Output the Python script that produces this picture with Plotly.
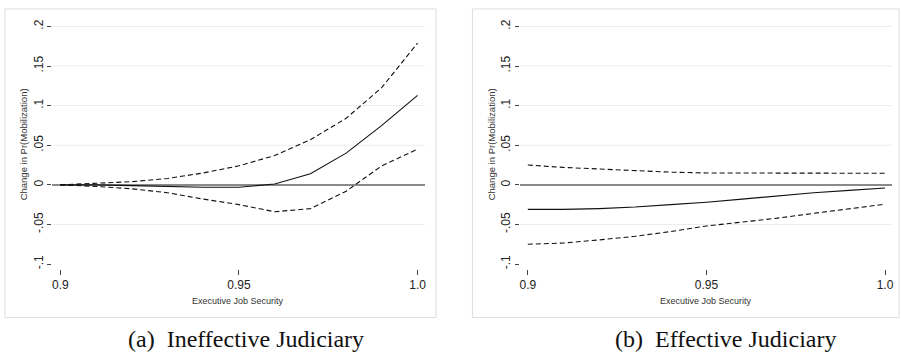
import plotly.graph_objects as go

# ---- data ----
x_vals = [0.90, 0.91, 0.92, 0.93, 0.94, 0.95, 0.96, 0.97, 0.98, 0.99, 1.00]

a_est = [0.000, 0.000, -0.001, -0.002, -0.003, -0.003, 0.001, 0.014, 0.040, 0.075, 0.113]
a_hi = [0.000, 0.002, 0.004, 0.008, 0.015, 0.024, 0.037, 0.057, 0.084, 0.123, 0.179]
a_lo = [0.000, -0.002, -0.005, -0.010, -0.018, -0.025, -0.034, -0.030, -0.008, 0.024, 0.045]

b_est = [-0.031, -0.031, -0.030, -0.028, -0.025, -0.022, -0.018, -0.014, -0.010, -0.007, -0.004]
b_hi = [0.025, 0.022, 0.020, 0.018, 0.016, 0.015, 0.015, 0.0148, 0.0147, 0.0146, 0.0146]
b_lo = [-0.075, -0.0735, -0.0695, -0.065, -0.059, -0.052, -0.047, -0.042, -0.036, -0.030, -0.0245]

y_ticks = [0.2, 0.15, 0.1, 0.05, 0.0, -0.05, -0.1]
y_tick_labels = [".2", ".15", ".1", ".05", "0", "-.05", "-.1"]
grid_vals = [0.2, 0.15, 0.1, 0.05, -0.05]
x_ticks = [0.90, 0.95, 1.00]
x_tick_labels = ["0.9", "0.95", "1.0"]
captions = ["(a)  Ineffective Judiciary", "(b)  Effective Judiciary"]
x_title = "Executive Job Security"
y_title = "Change in Pr(Mobilization)"

W, H = 902, 355


def px_x(p):
    return p / W


def px_y(p):
    return 1 - p / H


fig = go.Figure()

panels = [
    dict(xa="x", ya="y", est=a_est, hi=a_hi, lo=a_lo),
    dict(xa="x2", ya="y2", est=b_est, hi=b_hi, lo=b_lo),
]
for p in panels:
    for series, dash in [(p["hi"], "5px,3px"), (p["lo"], "5px,3px"), (p["est"], "solid")]:
        fig.add_trace(go.Scatter(
            x=x_vals, y=series, mode="lines", xaxis=p["xa"], yaxis=p["ya"],
            line=dict(color="#111", width=1.1, dash=dash), showlegend=False,
            hoverinfo="skip"))

# axis geometry (pixels)
y_top, y_bot = 20, 268
x_range = [0.9 - 8 / 3580, 1.0 + 7 / 3580]
y_range = [-0.1 - (y_bot - 263) / 800, 0.2 + (22.7 - y_top) / 800]
left_dom = [px_x(52.5), px_x(425.5)]
right_dom = [px_x(521), px_x(894)]
y_dom = [px_y(y_bot), px_y(y_top)]

axis_font = dict(family="Liberation Sans, Arial", size=12, color="#222")

common_x = dict(range=x_range, tickvals=x_ticks, ticktext=x_tick_labels, ticks="outside",
                ticklen=5, tickwidth=1, tickcolor="#444", showgrid=False, zeroline=False,
                showline=False, tickfont=axis_font, fixedrange=True)
common_y = dict(range=y_range, domain=y_dom, tickvals=y_ticks, ticktext=y_tick_labels,
                ticks="outside", ticklen=4, tickwidth=1, tickcolor="#444", tickangle=-90,
                showgrid=False, zeroline=True, zerolinecolor="#8a8a8a", zerolinewidth=1.5,
                showline=False, tickfont=axis_font, fixedrange=True)

fig.update_layout(
    width=W, height=H, autosize=False,
    margin=dict(l=0, r=0, t=0, b=0),
    paper_bgcolor="white", plot_bgcolor="white",
    xaxis=dict(domain=left_dom, anchor="y", **common_x),
    yaxis=dict(anchor="x", **common_y),
    xaxis2=dict(domain=right_dom, anchor="y2", **common_x),
    yaxis2=dict(anchor="x2", **common_y),
)

shapes = []
for xa, ya in [("x", "y"), ("x2", "y2")]:
    for g in grid_vals:
        shapes.append(dict(type="line", xref=f"{xa} domain", yref=ya, x0=0, x1=1, y0=g, y1=g,
                           line=dict(color="#ececec", width=1), layer="below"))
# panel frames
for x0, x1 in [(5, 437), (473.5, 901)]:
    shapes.append(dict(type="rect", xref="paper", yref="paper", x0=px_x(x0), x1=px_x(x1),
                       y0=px_y(317), y1=px_y(5), line=dict(color="#dcdcdc", width=1),
                       layer="below"))
fig.update_layout(shapes=shapes)

annotations = []
for cx_title, cx_ytitle, cx_cap, cap in [(239, 23, 247, captions[0]), (708, 492, 727, captions[1])]:
    annotations.append(dict(text=x_title, xref="paper", yref="paper", x=px_x(cx_title),
                            y=px_y(300), showarrow=False, xanchor="center", yanchor="middle",
                            font=dict(family="Liberation Sans, Arial", size=9, color="#333")))
    annotations.append(dict(text=y_title, xref="paper", yref="paper", x=px_x(cx_ytitle),
                            y=px_y(142), showarrow=False, xanchor="center", yanchor="middle",
                            textangle=-90,
                            font=dict(family="Liberation Sans, Arial", size=9.5, color="#333")))
    annotations.append(dict(text=cap, xref="paper", yref="paper", x=px_x(cx_cap),
                            y=px_y(339), showarrow=False, xanchor="center", yanchor="middle",
                            font=dict(family="Liberation Serif, Times New Roman", size=24,
                                      color="#111")))
fig.update_layout(annotations=annotations)

fig.write_html("out.html", config={"displayModeBar": False},
               post_script="document.body.style.margin='0';document.body.style.overflow='hidden';")
